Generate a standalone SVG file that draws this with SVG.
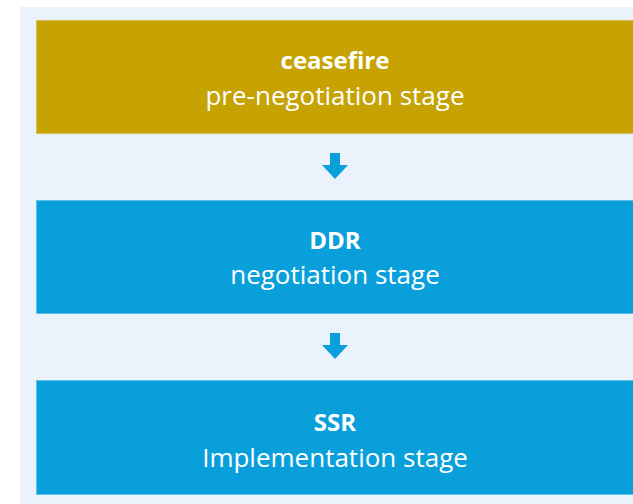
<svg xmlns="http://www.w3.org/2000/svg" width="633" height="504" viewBox="0 0 633 504">
<style>
.t{font-family:"Open Sans","Noto Sans",sans-serif;font-size:26px;fill:#fff;text-anchor:middle}
.b{font-weight:bold;font-size:24px}
.box{stroke-width:1}
.arr{fill:#089fdb}
</style>
<rect x="0" y="0" width="633" height="504" fill="#fff"/>
<rect x="20" y="7" width="613" height="497" fill="#eaf3fb"/>
<g id="node-ceasefire">
<rect class="box" x="36.5" y="20.5" width="600" height="113" fill="#c6a203" stroke="#d6bf5c"/>
<text class="t b" x="335" y="69">ceasefire</text>
<text class="t" x="335" y="105">pre-negotiation stage</text>
</g>
<g id="node-ddr">
<rect class="box" x="36.5" y="200.5" width="600" height="113" fill="#089fdb" stroke="#5cc0e8"/>
<text class="t b" x="335" y="249">DDR</text>
<text class="t" x="335" y="284">negotiation stage</text>
</g>
<g id="node-ssr">
<rect class="box" x="36.5" y="380.5" width="600" height="114" fill="#089fdb" stroke="#5cc0e8"/>
<text class="t b" x="335" y="431">SSR</text>
<text class="t" x="335" y="467">Implementation stage</text>
</g>
<g id="connectors">
<path class="arr" d="M330 153H340V165H348L335 179L322 165H330Z"/>
<path class="arr" d="M330 333H340V345H348L335 359L322 345H330Z"/>
</g>
</svg>
